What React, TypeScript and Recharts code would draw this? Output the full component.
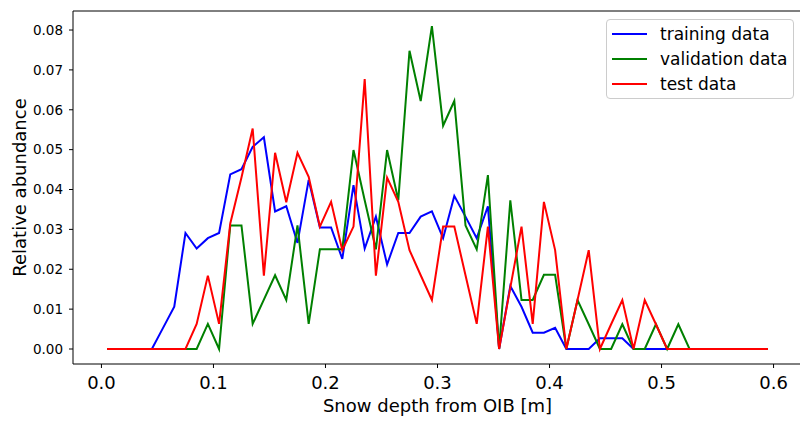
import React from 'react';
import { LineChart, Line, XAxis, YAxis, ReferenceLine } from 'recharts';

// bin centres of the snow depth histogram [m]
const BIN_CENTERS = [
  0.005, 0.015, 0.025, 0.035, 0.045, 0.055, 0.065, 0.075, 0.085, 0.095,
  0.105, 0.115, 0.125, 0.135, 0.145, 0.155, 0.165, 0.175, 0.185, 0.195,
  0.205, 0.215, 0.225, 0.235, 0.245, 0.255, 0.265, 0.275, 0.285, 0.295,
  0.305, 0.315, 0.325, 0.335, 0.345, 0.355, 0.365, 0.375, 0.385, 0.395,
  0.405, 0.415, 0.425, 0.435, 0.445, 0.455, 0.465, 0.475, 0.485, 0.495,
  0.505, 0.515, 0.525, 0.535, 0.545, 0.555, 0.565, 0.575, 0.585, 0.595,
];

const TRAINING = [
  0, 0, 0, 0, 0, 0.0053, 0.0106, 0.0291, 0.0252, 0.0278,
  0.0291, 0.0438, 0.0451, 0.0507, 0.0531, 0.0345, 0.0358, 0.0266, 0.0424, 0.0305,
  0.0305, 0.0226, 0.0411, 0.0252, 0.0332, 0.0212, 0.0291, 0.0291, 0.0332, 0.0345,
  0.0278, 0.0384, 0.0332, 0.0278, 0.0358, 0, 0.0158, 0.0106, 0.0041, 0.0041,
  0.0053, 0, 0, 0, 0.0027, 0.0027, 0.0027, 0, 0, 0,
  0, 0, 0, 0, 0, 0, 0, 0, 0, 0,
];

const VALIDATION = [
  0, 0, 0, 0, 0, 0, 0, 0, 0, 0.0063,
  0, 0.031, 0.031, 0.0063, 0.0124, 0.0185, 0.0123, 0.031, 0.0063, 0.025,
  0.025, 0.025, 0.0499, 0.0373, 0.025, 0.0499, 0.0373, 0.0748, 0.0622, 0.081,
  0.056, 0.0622, 0.031, 0.025, 0.0436, 0, 0.0373, 0.0123, 0.0123, 0.0186,
  0.0186, 0, 0.0123, 0.0062, 0, 0, 0.0062, 0, 0, 0.0062,
  0, 0.0062, 0, 0, 0, 0, 0, 0, 0, 0,
];

const TEST = [
  0, 0, 0, 0, 0, 0, 0, 0, 0.0063, 0.0184,
  0.0063, 0.0315, 0.043, 0.0553, 0.0184, 0.0492, 0.0368, 0.0492, 0.0432, 0.0307,
  0.0369, 0.0248, 0.0307, 0.0677, 0.0184, 0.043, 0.0369, 0.0248, 0.0185, 0.0123,
  0.0307, 0.0307, 0.0185, 0.0063, 0.0307, 0, 0.0154, 0.0307, 0.0063, 0.0369,
  0.0248, 0, 0.0123, 0.0248, 0, 0.0062, 0.0123, 0, 0.0123, 0.0062,
  0, 0, 0, 0, 0, 0, 0, 0, 0, 0,
];

const X_TICKS = [0, 0.1, 0.2, 0.3, 0.4, 0.5, 0.6];
const Y_TICKS = [0, 0.01, 0.02, 0.03, 0.04, 0.05, 0.06, 0.07, 0.08];

const SERIES = [
  { key: 'training', name: 'training data', color: '#0000ff' },
  { key: 'validation', name: 'validation data', color: '#008000' },
  { key: 'test', name: 'test data', color: '#ff0000' },
];

const FONT = '"DejaVu Sans", sans-serif';
const Y_MAX = 0.08477;

const data = BIN_CENTERS.map((x, i) => ({
  x,
  training: TRAINING[i],
  validation: VALIDATION[i],
  test: TEST[i],
}));

function LegendBox() {
  return (
    <div
      style={{
        position: 'absolute',
        left: 606,
        top: 19,
        width: 188,
        height: 80,
        border: '1px solid #cccccc',
        borderRadius: 4,
        background: 'rgba(255,255,255,0.8)',
        fontFamily: FONT,
        fontSize: 17,
        color: '#000',
        boxSizing: 'border-box',
        paddingTop: 1,
      }}
    >
      {SERIES.map((s) => (
        <div key={s.key} style={{ height: 25, display: 'flex', alignItems: 'center' }}>
          <div style={{ width: 35, height: 2, background: s.color, marginLeft: 5, marginRight: 13 }} />
          <span style={{ whiteSpace: 'nowrap' }}>{s.name}</span>
        </div>
      ))}
    </div>
  );
}

export default function App() {
  return (
    <div style={{ position: 'absolute', left: 0, top: 0, width: 800, height: 422, overflow: 'hidden', background: '#fff' }}>
      <LineChart width={804} height={422} data={data} margin={{ top: 11, right: 2, left: 0, bottom: 0 }}>
        <XAxis
          dataKey="x"
          type="number"
          domain={[-0.0254, 0.6254]}
          allowDataOverflow
          ticks={X_TICKS}
          tickFormatter={(v: number) => v.toFixed(1)}
          tick={{ fill: '#000', fontSize: 18, fontFamily: FONT }}
          tickSize={4}
          tickMargin={8}
          tickLine={{ stroke: '#000' }}
          axisLine={{ stroke: '#000' }}
          height={58}
          label={{
            content: ({ viewBox }: any) => (
              <text
                x={viewBox.x + viewBox.width / 2}
                y={412}
                textAnchor="middle"
                fontSize={18}
                fontFamily={FONT}
                fill="#000"
              >
                Snow depth from OIB [m]
              </text>
            ),
          }}
        />
        <YAxis
          type="number"
          domain={[-0.00376, Y_MAX]}
          allowDataOverflow
          ticks={Y_TICKS}
          tickFormatter={(v: number) => v.toFixed(2)}
          tick={{ fill: '#000', fontSize: 13.5, fontFamily: FONT }}
          tickSize={4}
          tickMargin={6}
          tickLine={{ stroke: '#000' }}
          axisLine={{ stroke: '#000' }}
          width={73}
          label={{
            content: ({ viewBox }: any) => {
              const cy = viewBox.y + viewBox.height / 2;
              return (
                <text
                  x={26}
                  y={cy}
                  transform={`rotate(-90, 26, ${cy})`}
                  textAnchor="middle"
                  fontSize={18}
                  fontFamily={FONT}
                  fill="#000"
                >
                  Relative abundance
                </text>
              );
            },
          }}
        />
        {/* top spine */}
        <ReferenceLine y={Y_MAX} stroke="#000" strokeWidth={1} ifOverflow="extendDomain" />
        {SERIES.map((s) => (
          <Line
            key={s.key}
            dataKey={s.key}
            name={s.name}
            type="linear"
            stroke={s.color}
            strokeWidth={2}
            dot={false}
            activeDot={false}
            isAnimationActive={false}
          />
        ))}
      </LineChart>
      <LegendBox />
    </div>
  );
}
